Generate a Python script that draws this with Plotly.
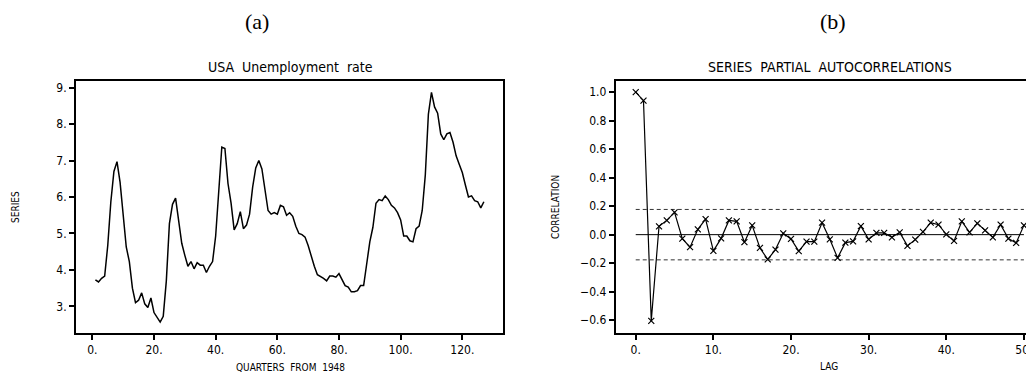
import plotly.graph_objects as go

# ---- data ----
quarters = list(range(1, 128))
unemployment = [
    3.73, 3.67, 3.77, 3.83,
    4.67, 5.87, 6.70, 6.97,
    6.40, 5.57, 4.63, 4.23,
    3.50, 3.10, 3.17, 3.37,
    3.07, 2.97, 3.23, 2.83,
    2.70, 2.57, 2.73, 3.70,
    5.27, 5.80, 5.97, 5.33,
    4.73, 4.40, 4.10, 4.23,
    4.03, 4.20, 4.13, 4.13,
    3.93, 4.10, 4.23, 4.93,
    6.30, 7.37, 7.33, 6.37,
    5.83, 5.10, 5.27, 5.60,
    5.13, 5.23, 5.53, 6.27,
    6.80, 7.00, 6.77, 6.20,
    5.63, 5.53, 5.57, 5.53,
    5.77, 5.73, 5.50, 5.57,
    5.47, 5.20, 5.00, 4.97,
    4.90, 4.67, 4.37, 4.10,
    3.87, 3.83, 3.77, 3.70,
    3.83, 3.83, 3.80, 3.90,
    3.73, 3.57, 3.53, 3.40,
    3.40, 3.43, 3.57, 3.57,
    4.17, 4.77, 5.17, 5.83,
    5.93, 5.90, 6.03, 5.93,
    5.77, 5.70, 5.57, 5.37,
    4.93, 4.93, 4.80, 4.77,
    5.13, 5.20, 5.63, 6.60,
    8.27, 8.87, 8.47, 8.30,
    7.73, 7.57, 7.73, 7.77,
    7.50, 7.13, 6.90, 6.67,
    6.33, 6.00, 6.03, 5.90,
    5.87, 5.70, 5.87,
]

lags = list(range(0, 51))
pacf = [
    1.00, 0.94, -0.605, 0.058, 0.100, 0.156, -0.028, -0.088, 0.037, 0.109,
    -0.114, -0.026, 0.100, 0.093, -0.053, 0.065, -0.093, -0.174, -0.105, 0.009,
    -0.030, -0.116, -0.049, -0.049, 0.084, -0.033, -0.163, -0.056, -0.047, 0.060,
    -0.033, 0.012, 0.012, -0.019, 0.016, -0.079, -0.035, 0.019, 0.084, 0.070,
    0.002, -0.044, 0.093, 0.016, 0.079, 0.030, -0.019, 0.070, -0.028, -0.058,
    0.065,
]
conf_bound = 0.1768

left_xticks = [0, 20, 40, 60, 80, 100, 120]
left_xtext = ["0.", "20.", "40.", "60.", "80.", "100.", "120."]
left_yticks = [3, 4, 5, 6, 7, 8, 9]
left_ytext = ["3.", "4.", "5.", "6.", "7.", "8.", "9."]
right_xticks = [0, 10, 20, 30, 40, 50]
right_xtext = ["0.", "10.", "20.", "30.", "40.", "50."]
right_yticks = [-0.6, -0.4, -0.2, 0.0, 0.2, 0.4, 0.6, 0.8, 1.0]
right_ytext = ["\u22120.6", "\u22120.4", "\u22120.2", "0.0", "0.2", "0.4", "0.6", "0.8", "1.0"]

# ---- layout geometry (page body has an 8px margin; compensate) ----
OFF = 8
W, H = 1034 - OFF, 381 - 2 * OFF
FONT = "DejaVu Sans Condensed, Liberation Sans Narrow, Arial Narrow, sans-serif"
SERIF = "Liberation Serif, DejaVu Serif, serif"

def px_x(p):
    return (p - OFF) / W

def px_y(p):
    return 1 - (p - OFF) / H

fig = go.Figure()

fig.add_trace(go.Scatter(
    x=quarters, y=unemployment, mode="lines",
    line=dict(color="black", width=1.5),
    xaxis="x", yaxis="y", showlegend=False,
))

fig.add_trace(go.Scatter(
    x=[lags[0], lags[-1]], y=[0, 0], mode="lines",
    line=dict(color="black", width=1),
    xaxis="x2", yaxis="y2", showlegend=False,
))
for b in (conf_bound, -conf_bound):
    fig.add_trace(go.Scatter(
        x=[lags[0], lags[-1]], y=[b, b], mode="lines",
        line=dict(color="#333", width=1, dash="4px,3px"),
        xaxis="x2", yaxis="y2", showlegend=False,
    ))
fig.add_trace(go.Scatter(
    x=lags, y=pacf, mode="lines+markers",
    line=dict(color="black", width=1.2),
    marker=dict(symbol="x-thin-open", size=6, color="black",
                line=dict(width=1.2, color="black")),
    xaxis="x2", yaxis="y2", showlegend=False,
))

axis_common = dict(
    showgrid=False, zeroline=False, showline=True, linecolor="black",
    linewidth=2, ticks="outside", ticklen=5, tickwidth=1.5, tickcolor="black",
    tickfont=dict(family=FONT, size=12, color="black"),
)

top, bottom = 80.7, 333
fig.update_layout(
    width=W, height=H,
    margin=dict(l=0, r=0, t=0, b=0),
    paper_bgcolor="white", plot_bgcolor="white",
    xaxis=dict(domain=[px_x(76), px_x(503.3)], range=[-5.3, 133.3],
               tickvals=left_xticks, ticktext=left_xtext, mirror=True,
               anchor="y", **axis_common),
    yaxis=dict(domain=[px_y(bottom), px_y(top)], range=[2.27, 9.19],
               tickvals=left_yticks, ticktext=left_ytext, mirror=True,
               anchor="x", **axis_common),
    xaxis2=dict(domain=[px_x(615.7), 1.0], range=[-2.58, 51.3],
                tickvals=right_xticks, ticktext=right_xtext, mirror=True,
                anchor="y2", **axis_common),
    yaxis2=dict(domain=[px_y(bottom), px_y(top)], range=[-0.69, 1.08],
                tickvals=right_yticks, ticktext=right_ytext,
                anchor="x2", **axis_common),
)

def label(text, x, y, size, family=FONT, angle=0, yanchor="middle"):
    fig.add_annotation(
        text=text, x=px_x(x), y=px_y(y), xref="paper", yref="paper",
        showarrow=False, textangle=angle, xanchor="center", yanchor=yanchor,
        borderpad=0, font=dict(family=family, size=size, color="black"),
    )

label("(a)", 257, 8, 22, family=SERIF, yanchor="top")
label("(b)", 833, 8, 22, family=SERIF, yanchor="top")
label("USA  Unemployment  rate", 290, 67, 14)
label("SERIES  PARTIAL  AUTOCORRELATIONS", 830, 67, 14)
label("QUARTERS  FROM  1948", 290, 367, 10)
label("LAG", 829, 366, 10)
label("SERIES", 15, 207, 10, angle=-90)
label("CORRELATION", 555, 207, 10, angle=-90)

fig.write_html("out.html")
